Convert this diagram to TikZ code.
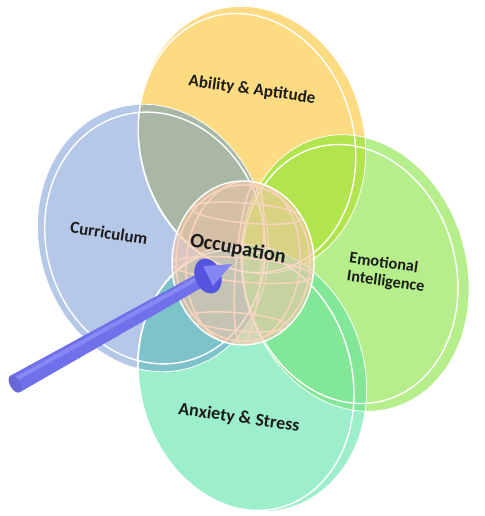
\documentclass[tikz,border=0pt]{standalone}
\usepackage{fontspec}
\setmainfont{Carlito}
\usetikzlibrary{calc}

\definecolor{aptitude}{HTML}{FDDB82}
\definecolor{curriculum}{HTML}{B5C8E8}
\definecolor{emotion}{HTML}{B6EE8C}
\definecolor{anxiety}{HTML}{9DEECB}
\definecolor{aptcur}{HTML}{A9B8A5}
\definecolor{aptemo}{HTML}{B2E44E}
\definecolor{emoanx}{HTML}{82E897}
\definecolor{curanx}{HTML}{7FC3CA}
\definecolor{sphere}{HTML}{F4C6A6}
\definecolor{grid}{HTML}{F8D4BE}
\definecolor{pen}{HTML}{7070EA}
\definecolor{penlight}{HTML}{8888F4}
\definecolor{pendark}{HTML}{5454DE}
\definecolor{labeltext}{HTML}{1C1C1C}

\newcommand\aptitudedisc{(252,140) ellipse [x radius=112, y radius=135, rotate=15]}
\newcommand\aptitudefront{(247,143) ellipse [x radius=107, y radius=131, rotate=15]}
\newcommand\curriculumdisc{(153,238) ellipse [x radius=114, y radius=135, rotate=15]}
\newcommand\curriculumfront{(155,238) ellipse [x radius=109, y radius=127, rotate=15]}
\newcommand\emotiondisc{(355,273) ellipse [x radius=112, y radius=140, rotate=15]}
\newcommand\emotionfront{(350,274) ellipse [x radius=106, y radius=131, rotate=15]}
\newcommand\anxietydisc{(252,378) ellipse [x radius=113, y radius=135, rotate=15]}
\newcommand\anxietyfront{(246,380) ellipse [x radius=106, y radius=132, rotate=15]}
\newcommand\occsphere{(243,263) ellipse [x radius=71, y radius=82]}

\begin{document}
\begin{tikzpicture}[x=1pt, y=-1pt,
        rim/.style = {draw=white, line width=0.8pt},
        front/.style = {draw=white, line width=1.4pt},
        gridline/.style = {draw=grid, line width=1.5pt},
        labeltxt/.style = {text=labeltext, inner sep=0pt},
        shaftlight/.style = {draw=penlight, line width=4pt}]
    \fill[white] (0,0) rectangle (484,516);
    % discs
    \fill[aptitude] \aptitudedisc;
    \fill[curriculum] \curriculumdisc;
    \fill[emotion] \emotiondisc;
    \fill[anxiety] \anxietydisc;
    \begin{scope}
        \clip \aptitudedisc;
        \fill[aptcur] \curriculumdisc;
        \fill[aptemo] \emotiondisc;
    \end{scope}
    \begin{scope}
        \clip \anxietydisc;
        \fill[curanx] \curriculumdisc;
        \fill[emoanx] \emotiondisc;
    \end{scope}
    \path[rim] \aptitudedisc \curriculumdisc \emotiondisc \anxietydisc;
    \path[front] \aptitudefront \curriculumfront \emotionfront \anxietyfront;
    % sphere
    \fill[sphere, opacity=0.6] \occsphere;
    \begin{scope}
        \clip \occsphere;
        \begin{scope}[rotate around={-5:(243,263)}]
            \path[gridline] (249,263) ellipse [x radius=13, y radius=82]
                (243,263) ellipse [x radius=57, y radius=82]
                (243,213) ellipse [x radius=56, y radius=10]
                (243,270) ellipse [x radius=71, y radius=12]
                (243,322) ellipse [x radius=50, y radius=9];
        \end{scope}
    \end{scope}
    \path[gridline] (243,263) ellipse [x radius=67, y radius=78];
    \path[front] \occsphere;
    % labels
    \node[labeltxt, font=\fontsize{17}{19}\selectfont\bfseries, rotate=-8]
        (aptitude) at (252,90) {Ability \& Aptitude};
    \node[labeltxt, font=\fontsize{17}{19}\selectfont\bfseries, rotate=-9]
        (curriculum) at (109,233) {Curriculum};
    \node[labeltxt, font=\fontsize{20.5}{23}\selectfont\bfseries, rotate=-10]
        (occupation) at (238,249) {Occupation};
    \node[labeltxt, font=\fontsize{16.3}{18}\selectfont\bfseries, rotate=-8,
        align=left] (emotion) at (387,273) {Emotional\\Intelligence};
    \node[labeltxt, font=\fontsize{18}{20}\selectfont\bfseries, rotate=-8]
        (anxiety) at (239,418) {Anxiety \& Stress};
    % pen
    \coordinate (penTail) at (15,384);
    \coordinate (penNeck) at (208,276);
    \coordinate (penTip) at (232,264);
    \fill[pen] ($(penTail)!9.5pt!90:(penNeck)$) -- ($(penNeck)!7pt!-90:(penTail)$)
        -- ($(penNeck)!7pt!90:(penTail)$) -- ($(penTail)!9.5pt!-90:(penNeck)$) -- cycle;
    \draw[shaftlight] ($(penTail)!4pt!90:(penNeck)$) -- ($(penNeck)!3pt!-90:(penTail)$);
    \fill[pen!92!black] (penTail) ellipse [x radius=5, y radius=9.5, rotate=29];
    \fill[pendark] (penNeck) ellipse [x radius=13, y radius=18, rotate=20];
    \fill[penlight!85!pen] ($(penNeck)!11pt!90:(penTip)$) -- (penTip)
        -- ($(penNeck)!11pt!-90:(penTip)$) -- cycle;
\end{tikzpicture}
\end{document}
